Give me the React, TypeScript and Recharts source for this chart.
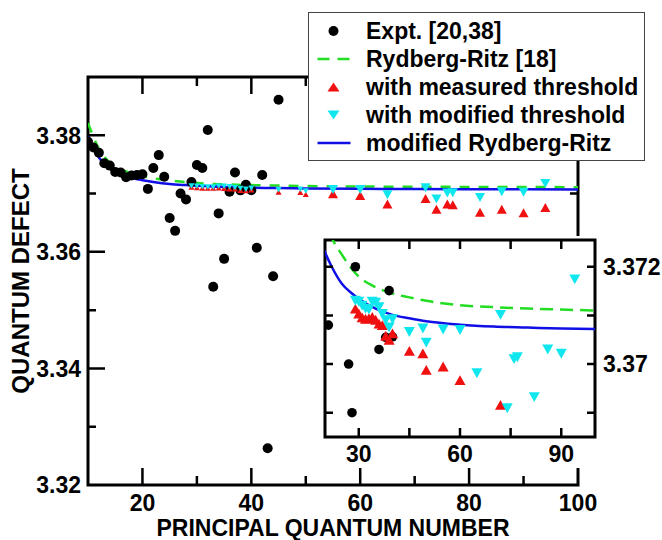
import React from 'react';
import { ComposedChart, Scatter, Line, XAxis, YAxis, Label, ReferenceLine, ReferenceArea } from 'recharts';

// ---------- data ----------
const exptN = [10, 11, 12, 13, 14, 15, 16, 17, 18, 19, 20, 21, 22, 23, 24, 25, 26, 27, 28, 29, 30, 31, 32, 33, 34, 35, 36, 37, 38, 39, 40, 41, 42, 43, 44, 45];
const exptD = [3.3789, 3.3779, 3.377, 3.3752, 3.3748, 3.3737, 3.3736, 3.3728, 3.3731, 3.3732, 3.3733, 3.3708, 3.3744, 3.3766, 3.3729, 3.3658, 3.3636, 3.37, 3.369, 3.372, 3.3749, 3.3744, 3.3809, 3.354, 3.3666, 3.3588, 3.3703, 3.3736, 3.37055, 3.37151, 3.37056, 3.3607, 3.3732, 3.3263, 3.3558, 3.3861];

const thrN = [29, 30, 31, 32, 33, 34, 35, 36, 37, 38, 39, 40, 45, 49, 50, 55, 60, 65, 72, 74, 76, 77, 82, 86, 90, 94];
const measuredD = [3.37114, 3.37104, 3.37096, 3.37093, 3.37094, 3.37097, 3.37091, 3.37083, 3.3708, 3.37058, 3.3705, 3.37063, 3.37027, 3.37022, 3.36988, 3.36995, 3.36967, 3.3682, 3.36916, 3.3673, 3.3682, 3.3681, 3.3668, 3.3673, 3.3667, 3.3676];
const modifiedD = [3.3713, 3.37128, 3.3712, 3.37114, 3.37112, 3.37128, 3.37126, 3.37117, 3.37103, 3.3709, 3.37075, 3.37092, 3.37066, 3.37073, 3.37044, 3.37071, 3.3707, 3.36981, 3.37101, 3.36909, 3.3701, 3.37014, 3.36932, 3.3703, 3.37021, 3.37174];

const curveN = [10, 11, 12, 13, 14, 15, 17, 20, 22, 25, 28, 30, 35, 40, 45, 50, 60, 70, 80, 90, 100];
const rydbergRitzD = [3.3821, 3.3797, 3.3777, 3.3763, 3.3753, 3.3746, 3.3738, 3.373, 3.3726, 3.37225, 3.37195, 3.3718, 3.37158, 3.37145, 3.37137, 3.3713, 3.37121, 3.37117, 3.37114, 3.37112, 3.3711];
const modifiedRitzD = [3.38, 3.3778, 3.3762, 3.3751, 3.3743, 3.3737, 3.3729, 3.3723, 3.372, 3.37165, 3.37145, 3.37134, 3.37114, 3.37101, 3.37094, 3.37088, 3.37081, 3.37077, 3.37075, 3.37073, 3.37072];

const mainXDomain = [10, 100];
const mainYDomain = [3.32, 3.39];
const mainXMajor = [20, 40, 60, 80, 100];
const mainXMinor = [30, 50, 70, 90];
const mainYMajor = [3.32, 3.34, 3.36, 3.38];
const mainYMinor = [3.33, 3.35, 3.37];
const insetXDomain = [20, 100];
const insetYDomain = [3.3685, 3.37255];
const insetXMajor = [30, 60, 90];
const insetXMinor = [45, 75];
const insetYMajor = [3.37, 3.372];
const insetYMinor = [3.369, 3.371];

const legendLabels = ['Expt. [20,38]', 'Rydberg-Ritz [18]', 'with measured threshold', 'with modified threshold', 'modified Rydberg-Ritz'];
const xTitle = 'PRINCIPAL QUANTUM NUMBER';
const yTitle = 'QUANTUM DEFECT';

// ---------- derived tables ----------
const zip = (ns: number[], ds: number[]) => ns.map((n, i) => ({ n, d: ds[i] }));
const exptData = zip(exptN, exptD);
const measuredData = zip(thrN, measuredD);
const modifiedData = zip(thrN, modifiedD);
const rrData = zip(curveN, rydbergRitzD);
const mrrData = zip(curveN, modifiedRitzD);

const sortNum = (a: number[]) => [...a].sort((p, q) => p - q);

// ---------- styles ----------
const FONT = '"Liberation Sans", Arial, Helvetica, sans-serif';
const BLACK = '#000';
const GREEN = '#22dd22';
const RED = '#f01010';
const CYAN = '#10e6ee';
const BLUE = '#1010e6';

type Side = 'left' | 'right' | 'bottom';

// tick label renderer (labels only, tick marks drawn by ReferenceLines)
function makeLabel(side: Side, majors: number[], offset: number, fontSize: number) {
  return (props: any) => {
    const { x, y, payload } = props;
    const v = payload.value as number;
    const isMajor = majors.some((m) => Math.abs(m - v) < 1e-9);
    if (!isMajor) return <g />;
    const common = { fontFamily: FONT, fontWeight: 700, fontSize, fill: BLACK } as any;
    const txt = String(v);
    if (side === 'left') return <text x={Number(x) - offset} y={Number(y)} dy="0.36em" textAnchor="end" {...common}>{txt}</text>;
    if (side === 'right') return <text x={Number(x) + offset} y={Number(y)} dy="0.36em" textAnchor="start" {...common}>{txt}</text>;
    return <text x={Number(x)} y={Number(y) + offset} textAnchor="middle" {...common}>{txt}</text>;
  };
}

// tick marks: short inward segments at both ends of a reference line
const vTickShape = (len: number) => (p: any) => {
  const x = Number(p.x1);
  const ya = Math.min(Number(p.y1), Number(p.y2));
  const yb = Math.max(Number(p.y1), Number(p.y2));
  return <path d={`M${x},${yb}V${yb - len}M${x},${ya}V${ya + len}`} stroke={BLACK} strokeWidth={2.5} fill="none" />;
};
const hTickShape = (len: number) => (p: any) => {
  const y = Number(p.y1);
  const xa = Math.min(Number(p.x1), Number(p.x2));
  const xb = Math.max(Number(p.x1), Number(p.x2));
  return <path d={`M${xa},${y}H${xa + len}M${xb},${y}H${xb - len}`} stroke={BLACK} strokeWidth={2.5} fill="none" />;
};

const circleShape = (r: number) => (p: any) => <circle cx={p.cx} cy={p.cy} r={r} fill={BLACK} />;

const triShape = (color: string, up: boolean, sizeFor: (n: number) => number) => (p: any) => {
  const { cx, cy, payload } = p;
  if (cx == null || cy == null) return <g />;
  const w = sizeFor(payload.n);
  const h = w * 0.9;
  const pts = up
    ? `${cx},${cy - h / 2} ${cx - w / 2},${cy + h / 2} ${cx + w / 2},${cy + h / 2}`
    : `${cx},${cy + h / 2} ${cx - w / 2},${cy - h / 2} ${cx + w / 2},${cy - h / 2}`;
  return <polygon points={pts} fill={color} />;
};

const mainTriSize = (n: number) => (n < 52 ? 6 : 10);
const insetTriSize = () => 11;

function MainChart() {
  return (
    <ComposedChart width={662} height={540} margin={{ top: 77, right: 84, bottom: 0, left: 0 }}>
      <XAxis xAxisId="b" type="number" dataKey="n" domain={mainXDomain} allowDataOverflow orientation="bottom" height={55}
        ticks={sortNum([...mainXMajor, ...mainXMinor])} interval={0} tickLine={false} tickSize={0} tickMargin={0}
        axisLine={false} tick={makeLabel('bottom', mainXMajor, 26, 23)}>
        <Label content={(p: any) => {
          const vb = p.viewBox || {};
          return <text x={vb.x + vb.width / 2} y={vb.y + 51} textAnchor="middle" fontFamily={FONT} fontWeight={700} fontSize={23} fill={BLACK}>{xTitle}</text>;
        }} />
      </XAxis>
      <YAxis yAxisId="l" type="number" dataKey="d" domain={mainYDomain} allowDataOverflow orientation="left" width={88}
        ticks={sortNum([...mainYMajor, ...mainYMinor])} interval={0} tickLine={false} tickSize={0} tickMargin={0}
        axisLine={false} tick={makeLabel('left', mainYMajor, 7, 23)}>
        <Label content={(p: any) => {
          const vb = p.viewBox || {};
          const cx = vb.x + 20;
          const cy = vb.y + vb.height / 2;
          return <text x={cx} y={cy} dy="0.36em" transform={`rotate(-90 ${cx} ${cy})`} textAnchor="middle" fontFamily={FONT} fontWeight={700} fontSize={24} fill={BLACK}>{yTitle}</text>;
        }} />
      </YAxis>

      <Scatter xAxisId="b" yAxisId="l" data={exptData} dataKey="d" isAnimationActive={false} shape={circleShape(5)} />
      <Scatter xAxisId="b" yAxisId="l" data={measuredData} dataKey="d" isAnimationActive={false} shape={triShape(RED, true, mainTriSize)} />
      <Scatter xAxisId="b" yAxisId="l" data={modifiedData} dataKey="d" isAnimationActive={false} shape={triShape(CYAN, false, mainTriSize)} />
      <Line xAxisId="b" yAxisId="l" data={rrData} dataKey="d" type="monotone" stroke={GREEN} strokeWidth={2.5} strokeDasharray="10 9" dot={false} activeDot={false} isAnimationActive={false} />
      <Line xAxisId="b" yAxisId="l" data={mrrData} dataKey="d" type="monotone" stroke={BLUE} strokeWidth={2.5} dot={false} activeDot={false} isAnimationActive={false} />

      {mainXMajor.filter((v) => v < mainXDomain[1]).map((v) => (
        <ReferenceLine key={`xM${v}`} xAxisId="b" yAxisId="l" x={v} ifOverflow="visible" shape={vTickShape(17)} />
      ))}
      {mainXMinor.map((v) => (
        <ReferenceLine key={`xm${v}`} xAxisId="b" yAxisId="l" x={v} ifOverflow="visible" shape={vTickShape(9)} />
      ))}
      {mainYMajor.filter((v) => v > mainYDomain[0]).map((v) => (
        <ReferenceLine key={`yM${v}`} xAxisId="b" yAxisId="l" y={v} ifOverflow="visible" shape={hTickShape(17)} />
      ))}
      {mainYMinor.map((v) => (
        <ReferenceLine key={`ym${v}`} xAxisId="b" yAxisId="l" y={v} ifOverflow="visible" shape={hTickShape(8)} />
      ))}
      <ReferenceArea xAxisId="b" yAxisId="l" x1={mainXDomain[0]} x2={mainXDomain[1]} y1={mainYDomain[0]} y2={mainYDomain[1]}
        ifOverflow="visible" fill="none" fillOpacity={0} stroke={BLACK} strokeWidth={3} strokeOpacity={1} />
    </ComposedChart>
  );
}

function InsetChart() {
  return (
    <ComposedChart width={340} height={232} margin={{ top: 4, right: 0, bottom: 0, left: 3 }}>
      <XAxis xAxisId="b" type="number" dataKey="n" domain={insetXDomain} allowDataOverflow orientation="bottom" height={31}
        ticks={sortNum([...insetXMajor, ...insetXMinor])} interval={0} tickLine={false} tickSize={0} tickMargin={0}
        axisLine={false} tick={makeLabel('bottom', insetXMajor, 25, 23)} />
      <YAxis yAxisId="r" type="number" dataKey="d" domain={insetYDomain} allowDataOverflow orientation="right" width={67}
        ticks={sortNum([...insetYMajor, ...insetYMinor])} interval={0} tickLine={false} tickSize={0} tickMargin={0}
        axisLine={false} tick={makeLabel('right', insetYMajor, 8, 23)} />

      <Scatter xAxisId="b" yAxisId="r" data={exptData} dataKey="d" isAnimationActive={false} shape={circleShape(4.8)} />
      <Scatter xAxisId="b" yAxisId="r" data={measuredData} dataKey="d" isAnimationActive={false} shape={triShape(RED, true, insetTriSize)} />
      <Scatter xAxisId="b" yAxisId="r" data={modifiedData} dataKey="d" isAnimationActive={false} shape={triShape(CYAN, false, insetTriSize)} />
      <Line xAxisId="b" yAxisId="r" data={rrData} dataKey="d" type="monotone" stroke={GREEN} strokeWidth={2.5} strokeDasharray="13 7" dot={false} activeDot={false} isAnimationActive={false} />
      <Line xAxisId="b" yAxisId="r" data={mrrData} dataKey="d" type="monotone" stroke={BLUE} strokeWidth={2.5} dot={false} activeDot={false} isAnimationActive={false} />

      {[...insetXMajor, ...insetXMinor].map((v) => (
        <ReferenceLine key={`ix${v}`} xAxisId="b" yAxisId="r" x={v} ifOverflow="visible" shape={vTickShape(9)} />
      ))}
      {[...insetYMajor, ...insetYMinor].map((v) => (
        <ReferenceLine key={`iy${v}`} xAxisId="b" yAxisId="r" y={v} ifOverflow="visible" shape={hTickShape(8)} />
      ))}
      <ReferenceArea xAxisId="b" yAxisId="r" x1={insetXDomain[0]} x2={insetXDomain[1]} y1={insetYDomain[0]} y2={insetYDomain[1]}
        ifOverflow="visible" fill="none" fillOpacity={0} stroke={BLACK} strokeWidth={3} strokeOpacity={1} />
    </ComposedChart>
  );
}

function LegendSymbol({ i }: { i: number }) {
  const cx = 24.5;
  const cy = 14;
  let el: any = null;
  if (i === 0) el = <circle cx={cx} cy={cy} r={5} fill={BLACK} />;
  else if (i === 1) el = <line x1={8.5} y1={cy} x2={41.5} y2={cy} stroke={GREEN} strokeWidth={2.5} strokeDasharray="12 8" />;
  else if (i === 2) el = <polygon points={`${cx},${cy - 4.5} ${cx - 6},${cy + 4.5} ${cx + 6},${cy + 4.5}`} fill={RED} />;
  else if (i === 3) el = <polygon points={`${cx},${cy + 4.5} ${cx - 6},${cy - 4.5} ${cx + 6},${cy - 4.5}`} fill={CYAN} />;
  else el = <line x1={8.5} y1={cy} x2={41.5} y2={cy} stroke={BLUE} strokeWidth={2.5} />;
  return <svg width={57} height={28} style={{ display: 'block', flex: 'none' }}>{el}</svg>;
}

function LegendBox() {
  return (
    <div style={{ position: 'absolute', left: 308, top: 12, width: 337, height: 149, boxSizing: 'border-box', border: '1.5px solid #444', background: '#fff', paddingTop: 4 }}>
      {legendLabels.map((t, i) => (
        <div key={t} style={{ display: 'flex', alignItems: 'center', height: 28 }}>
          <LegendSymbol i={i} />
          <span style={{ fontFamily: FONT, fontWeight: 700, fontSize: 23, lineHeight: '28px', color: BLACK, whiteSpace: 'nowrap' }}>{t}</span>
        </div>
      ))}
    </div>
  );
}

export default function App() {
  return (
    <div style={{ position: 'absolute', left: 0, top: 0, width: 662, height: 540, background: '#fff', overflow: 'hidden' }}>
      <div style={{ position: 'absolute', left: 0, top: 0 }}>
        <MainChart />
      </div>
      <div style={{ position: 'absolute', left: 322, top: 236, width: 340, height: 232, background: '#fff' }}>
        <InsetChart />
      </div>
      <LegendBox />
    </div>
  );
}
